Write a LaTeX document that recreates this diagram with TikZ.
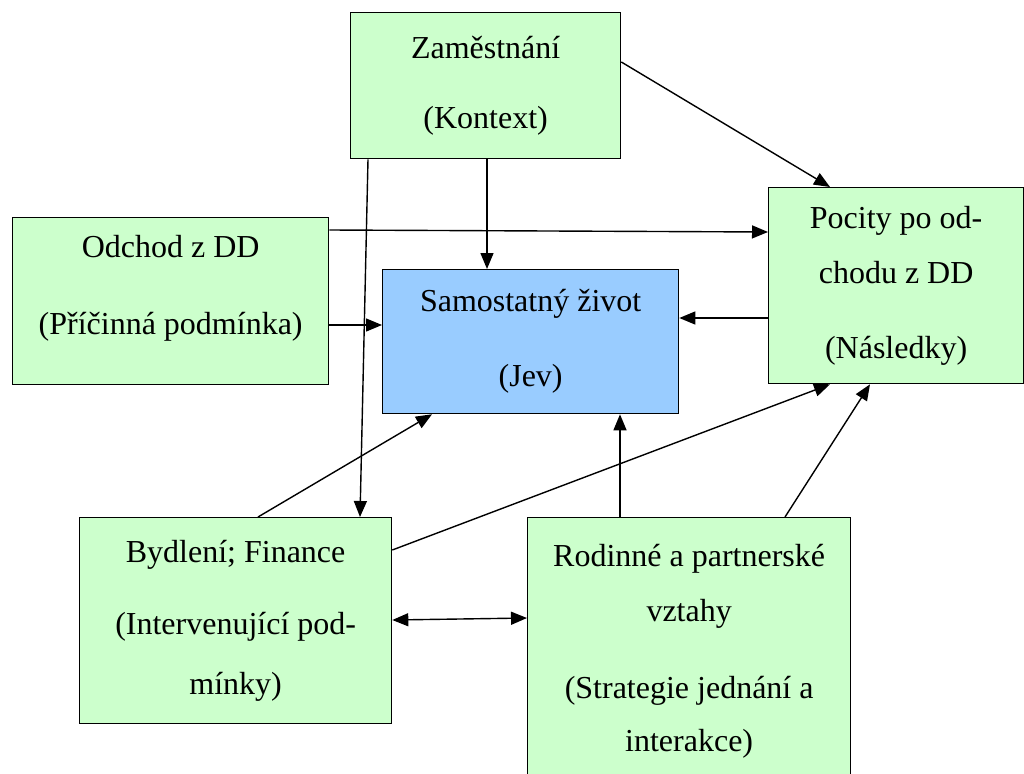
\documentclass[tikz,border=0pt]{standalone}
\usepackage{fontspec}
\setmainfont{Liberation Serif}
\usetikzlibrary{arrows.meta}
\definecolor{zelena}{HTML}{CCFFCC}
\definecolor{modra}{HTML}{99CCFF}
\begin{document}
\begin{tikzpicture}[x=1pt,y=-1pt,%
        every node/.style={font=\fontsize{32}{36}\selectfont,align=center},
        box/.style={draw=black,line width=1.3pt,fill=zelena,anchor=north
          west,inner sep=0pt},%
        sip/.style={-{Triangle[length=16pt,width=13pt]},line width=1.4pt},
        dsip/.style={{Triangle[length=16pt,width=13pt]}-{Triangle[length=16pt,width=13pt]},line
          width=1.4pt}]%
  \useasboundingbox (0,0) rectangle (1024,773); \clip (0,0) rectangle (1024,773);
  \node[box,minimum width=270,minimum height=146] (zam) at (350,12)
  {Zaměstnání\\[34pt](Kontext)}; \node[box,minimum width=316,minimum
  height=167] (odc) at (12,217) {Odchod z DD\\[41pt](Příčinná
  podmínka)\\[-4pt]\mbox{}}; \node[box,fill=modra,minimum
  width=296,minimum height=144] (sam) at (382,269) {Samostatný
  život\\[39pt](Jev)}; \node[box,minimum width=255,minimum height=196]
  (poc) at (768,187) {Pocity po od-\\[19pt]chodu z
  DD\\[39pt](Následky)}; \node[box,minimum width=312,minimum height=206]
  (byd) at (79,517) {Bydlení; Finance\\[36pt](Intervenující
  pod-\\[24pt]mínky)}; \node[box,minimum width=323,minimum height=268]
  (rod) at (527,517) {Rodinné a partnerské\\[19pt]vztahy\\[41pt](Strategie
  jednání a\\[17pt]interakce)};
  % spojnice
  \draw[sip] ([yshift=-50pt]zam.north east) -- ([xshift=62pt]poc.north west);
  \draw[sip] ([xshift=137pt]zam.south west) -- ([xshift=105pt]sam.north west);
  \draw[sip] ([xshift=18pt]zam.south west) -- ([xshift=281pt]byd.north west);
  \draw[sip] ([yshift=-13pt]odc.north east) -- ([yshift=-45pt]poc.north west);
  \draw[sip] ([yshift=-108pt]odc.north east) -- ([yshift=-56pt]sam.north west);
  \draw[sip] ([yshift=-131pt]poc.north west) -- ([yshift=-49pt]sam.north east);
  \draw[sip] ([xshift=179pt]byd.north west) -- ([xshift=50pt]sam.south west);
  \draw[sip] ([yshift=-33pt]byd.north east) -- ([xshift=62pt]poc.south west);
  \draw[sip] ([xshift=93pt]rod.north west) -- ([xshift=238pt]sam.south west);
  \draw[sip] ([xshift=258pt]rod.north west) -- ([xshift=102pt]poc.south west);
  \draw[dsip] ([yshift=-103pt]byd.north east) -- ([yshift=-101pt]rod.north west);
\end{tikzpicture}
\end{document}
